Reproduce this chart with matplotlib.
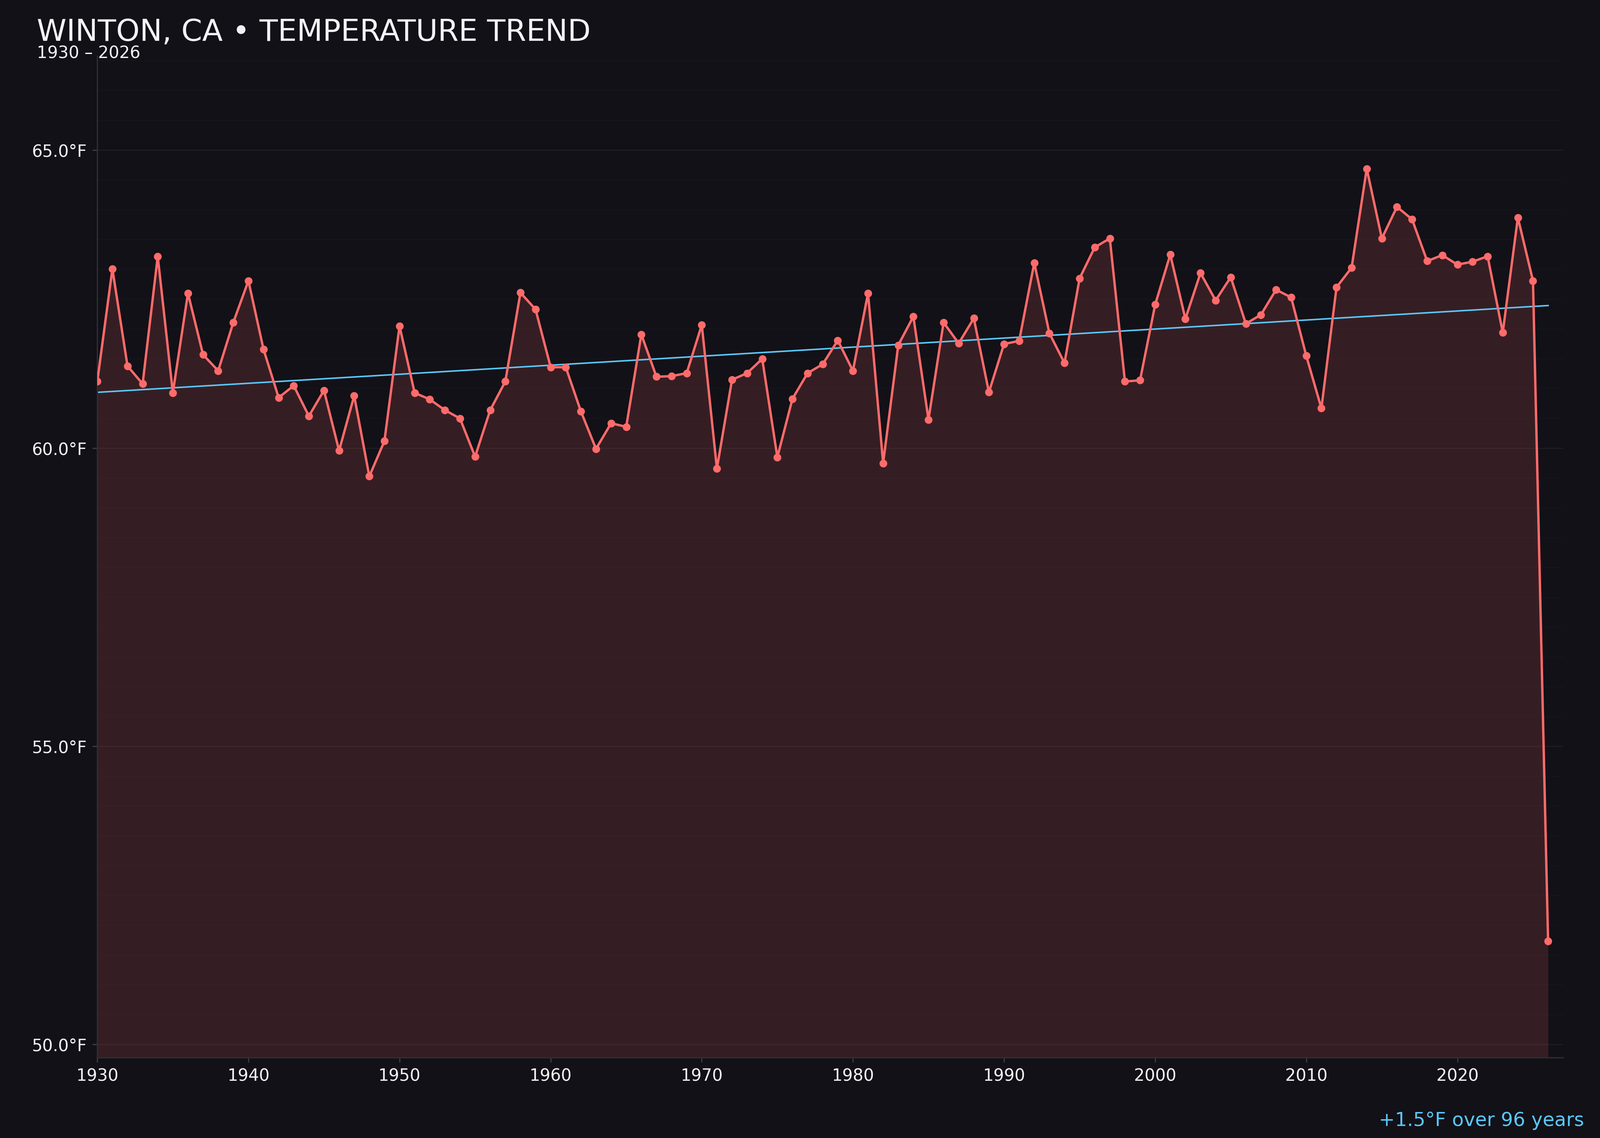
import numpy as np
import matplotlib
matplotlib.use("Agg")
import matplotlib.pyplot as plt
from matplotlib.ticker import MultipleLocator, FuncFormatter

# Annual mean temperature, Winton CA
years = list(range(1930, 2027))
temps = [
    61.12, 63.01, 61.38, 61.08, 63.22, 60.93, 62.60, 61.57, 61.30, 62.11,
    62.81, 61.66, 60.85, 61.05, 60.54, 60.97, 59.96, 60.88, 59.53, 60.12,
    62.05, 60.93, 60.82, 60.64, 60.50, 59.86, 60.64, 61.12, 62.61, 62.33,
    61.36, 61.36, 60.62, 59.99, 60.42, 60.36, 61.91, 61.20, 61.21, 61.26,
    62.07, 59.66, 61.15, 61.26, 61.50, 59.85, 60.83, 61.26, 61.41, 61.81,
    61.30, 62.60, 59.75, 61.73, 62.21, 60.48, 62.11, 61.76, 62.18, 60.94,
    61.75, 61.80, 63.11, 61.93, 61.43, 62.85, 63.37, 63.52, 61.12, 61.14,
    62.41, 63.25, 62.17, 62.94, 62.48, 62.87, 62.09, 62.24, 62.66, 62.53,
    61.55, 60.67, 62.70, 63.03, 64.69, 63.52, 64.05, 63.84, 63.14, 63.24,
    63.08, 63.13, 63.22, 61.94, 63.87, 62.81, 51.73,
]
title = "WINTON, CA \u2022 TEMPERATURE TREND"
subtitle = "1930 \u2013 2026"
note = "+1.5\u00b0F over 96 years"

bg = "#121117"
red = "#ff6b6b"
blue = "#5ac8fa"
txt = "#f2f2f7"

x = np.array(years)
y = np.array(temps)

# linear trend over all years
coef = np.polyfit(x, y, 1)
trend = np.polyval(coef, x)

fig = plt.figure(figsize=(16, 11.376), dpi=250, facecolor=bg)
ax = fig.add_axes([0.0608, 0.0707, 0.9162, 0.8801])
ax.set_facecolor(bg)

ymin, ymax = 49.78, 66.58
ax.set_xlim(1930, 2027)
ax.set_ylim(ymin, ymax)

ax.fill_between(x, y, ymin, color=red, alpha=0.15, linewidth=0, zorder=1)
ax.plot(x, trend, color=blue, linewidth=1.1, zorder=2)
ax.plot(x, y, color=red, linewidth=1.7, marker="o", markersize=4.6, zorder=3)

ax.yaxis.set_major_locator(MultipleLocator(5))
ax.yaxis.set_minor_locator(MultipleLocator(0.5))
ax.xaxis.set_major_locator(MultipleLocator(10))
ax.yaxis.set_major_formatter(FuncFormatter(lambda v, p: f"{v:.1f}\u00b0F"))

ax.grid(axis="y", which="major", color="white", linewidth=0.8, alpha=0.05, zorder=0)
ax.grid(axis="y", which="minor", color="white", linewidth=0.6, alpha=0.018, zorder=0)
ax.set_axisbelow(True)

for s in ["top", "right"]:
    ax.spines[s].set_visible(False)
for s in ["left", "bottom"]:
    ax.spines[s].set_color("#2e2e36")
    ax.spines[s].set_linewidth(0.9)

ax.tick_params(axis="both", which="major", colors="#3a3a44", labelcolor=txt,
               labelsize=12, length=3.5, width=0.9, pad=4)
ax.tick_params(axis="y", which="minor", length=0)

fig.text(0.023, 0.964, title, color=txt, fontsize=21.6, ha="left", va="baseline")
fig.text(0.023, 0.949, subtitle, color=txt, fontsize=12, ha="left", va="baseline")
fig.text(0.990, 0.0105, note, color=blue, fontsize=13.8, ha="right", va="baseline")

fig.savefig("out.png", dpi=250, facecolor=bg)
